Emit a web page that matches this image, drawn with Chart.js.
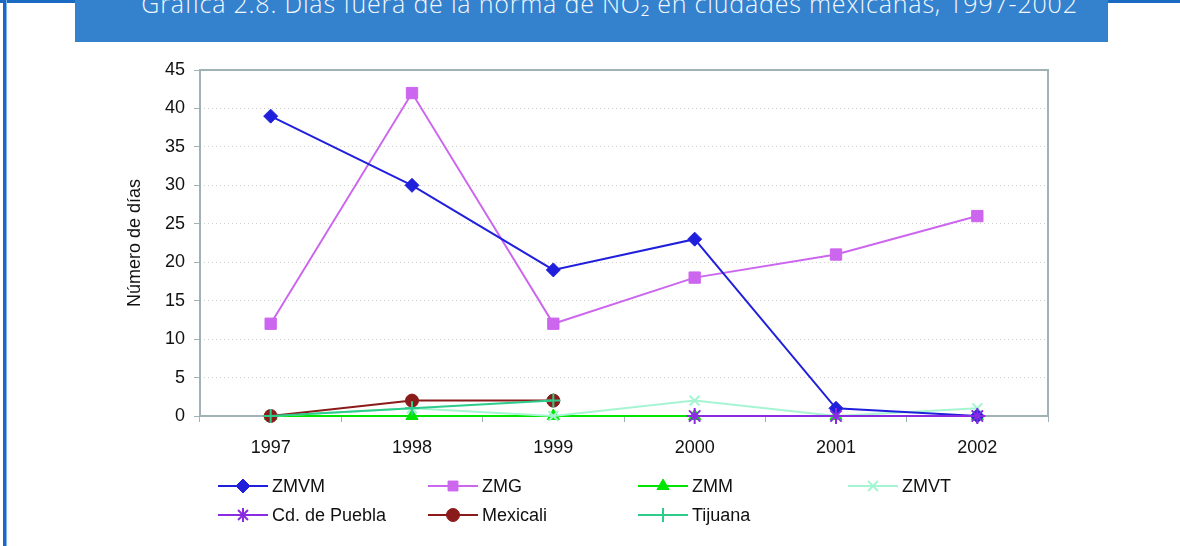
<!DOCTYPE html>
<html>
<head>
<meta charset="utf-8">
<script src="https://cdn.jsdelivr.net/npm/chart.js@4.4.0/dist/chart.umd.min.js"></script>
<style>
  html, body { margin: 0; padding: 0; background: #fff; }
  #wrap { position: relative; width: 1180px; height: 546px; overflow: hidden; }
  #frameTop { position: absolute; left: 0; top: 0; width: 1180px; height: 3px; background: #1a6ac4; }
  #frameLeft { position: absolute; left: 3px; top: 0; width: 3px; height: 546px; background: #1a6ac4; border-right: 1px solid #7fb3ea; }
  #band { position: absolute; left: 75px; top: 0; width: 1033px; height: 42px; background: #3482ce; overflow: hidden; }
  #band span { position: absolute; left: 36px; right: 0; top: -10px; line-height: 26px; text-align: center; color: #f4f8fc;
    font-family: "Open Sans", Lato, sans-serif; font-weight: 300; font-size: 25px; letter-spacing: 0.8px; white-space: nowrap; }
  canvas { position: absolute; left: 0; top: 0; }
</style>
</head>
<body>
<div id="wrap">
  <div id="frameTop"></div>
  <div id="frameLeft"></div>
  <div id="band"><span>Gráfica  2.8. Días fuera de la norma de NO₂ en ciudades mexicanas, 1997-2002</span></div>
  <canvas id="myChart" width="1180" height="546"></canvas>
</div>
<script>
const ctx = document.getElementById('myChart').getContext('2d');

// data
const years = ['1997', '1998', '1999', '2000', '2001', '2002'];
const zmvm = [39, 30, 19, 23, 1, 0];
const zmg = [12, 42, 12, 18, 21, 26];
const zmm = [0, 0, 0, 0, 0, 0];
const zmvt = [0, 1, 0, 2, 0, 1];
const puebla = [null, null, null, 0, 0, 0];
const mexicali = [0, 2, 2, null, null, null];
const tijuana = [0, 1, 2, null, null, null];
const yTicks = [0, 5, 10, 15, 20, 25, 30, 35, 40, 45];

const font = '"Liberation Sans", Arial, sans-serif';

function line(label, data, color, style, radius, order){
  const thin = style === 'cross' || style === 'crossRot' || style === 'star';
  return {
    label: label,
    data: data,
    order: order,
    clip: false,
    borderColor: color,
    backgroundColor: color,
    borderWidth: 2,
    pointStyle: style,
    pointRadius: radius,
    pointBorderWidth: thin ? 2 : 1,
    pointBorderColor: color,
    pointBackgroundColor: color,
    tension: 0,
    spanGaps: false
  };
}

// lower order = drawn on top
const datasets = [
  line('ZMVM', zmvm, '#2020dc', 'rectRot', 7, 0),
  line('ZMG', zmg, '#cc66ee', 'rect', 8, 1),
  line('ZMM', zmm, '#00e600', 'triangle', 7, 4),
  line('ZMVT', zmvt, '#a6f5d2', 'crossRot', 7, 3),
  line('Cd. de Puebla', puebla, '#8a2be2', 'star', 8, -1),
  line('Mexicali', mexicali, '#8b1a1a', 'circle', 6.5, -2),
  line('Tijuana', tijuana, '#2ecc8a', 'cross', 7, -3)
];

// plot frame + legend laid out in fixed columns
const legendCols = [218, 428, 638, 848];
const legendRows = [486, 515];

const extras = {
  id: 'extras',
  beforeDatasetsDraw(chart){
    const c = chart.ctx;
    const a = chart.chartArea;
    c.save();
    c.strokeStyle = '#9fb2b6';
    c.lineWidth = 2;
    c.strokeRect(a.left, a.top, a.right - a.left, a.bottom - a.top);
    c.restore();
  },
  afterDraw(chart){
    const c = chart.ctx;
    c.save();
    chart.data.datasets.forEach(function(ds, i){
      const x = legendCols[i % 4];
      const y = legendRows[Math.floor(i / 4)];
      c.strokeStyle = ds.borderColor;
      c.lineWidth = 2;
      c.beginPath();
      c.moveTo(x, y);
      c.lineTo(x + 50, y);
      c.stroke();
      c.fillStyle = ds.backgroundColor;
      c.lineWidth = ds.pointBorderWidth;
      Chart.helpers.drawPoint(c, {pointStyle: ds.pointStyle, radius: Math.min(ds.pointRadius, 7), rotation: 0, borderWidth: ds.pointBorderWidth}, x + 25, y);
      c.fillStyle = '#111';
      c.font = '18px ' + font;
      c.textBaseline = 'middle';
      c.textAlign = 'left';
      c.fillText(ds.label, x + 54, y + 1);
    });
    c.restore();
  }
};

const myChart = new Chart(ctx, {
  type: 'line',
  data: {
    labels: years,
    datasets: datasets
  },
  options: {
    responsive: false,
    animation: false,
    layout: { padding: { left: 124, right: 132, top: 70, bottom: 80 } },
    plugins: {
      legend: { display: false },
      tooltip: { enabled: false }
    },
    scales: {
      x: {
        offset: true,
        grid: {
          offset: true,
          drawOnChartArea: false,
          drawTicks: true,
          tickLength: 6,
          tickColor: '#9fb2b6',
          tickWidth: 1
        },
        border: { display: false },
        ticks: {
          color: '#111',
          font: { family: font, size: 18 },
          padding: 15
        },
        afterFit(scale){ scale.height = 50; }
      },
      y: {
        min: 0,
        max: 45,
        afterBuildTicks(scale){ scale.ticks = yTicks.map(v => ({value: v})); },
        grid: {
          color: '#cfcfcf',
          lineWidth: 1,
          drawTicks: true,
          tickLength: 6,
          tickColor: '#9fb2b6',
          tickBorderDash: [],
          tickWidth: 1
        },
        border: { display: false, dash: [1, 3] },
        ticks: {
          color: '#111',
          font: { family: font, size: 18 },
          padding: 9
        },
        title: {
          display: true,
          text: 'Número de días',
          color: '#111',
          font: { family: font, size: 18 },
          padding: { top: 0, bottom: 0 }
        },
        afterFit(scale){ scale.width = 76; }
      }
    }
  },
  plugins: [extras]
});
</script>
</body>
</html>
